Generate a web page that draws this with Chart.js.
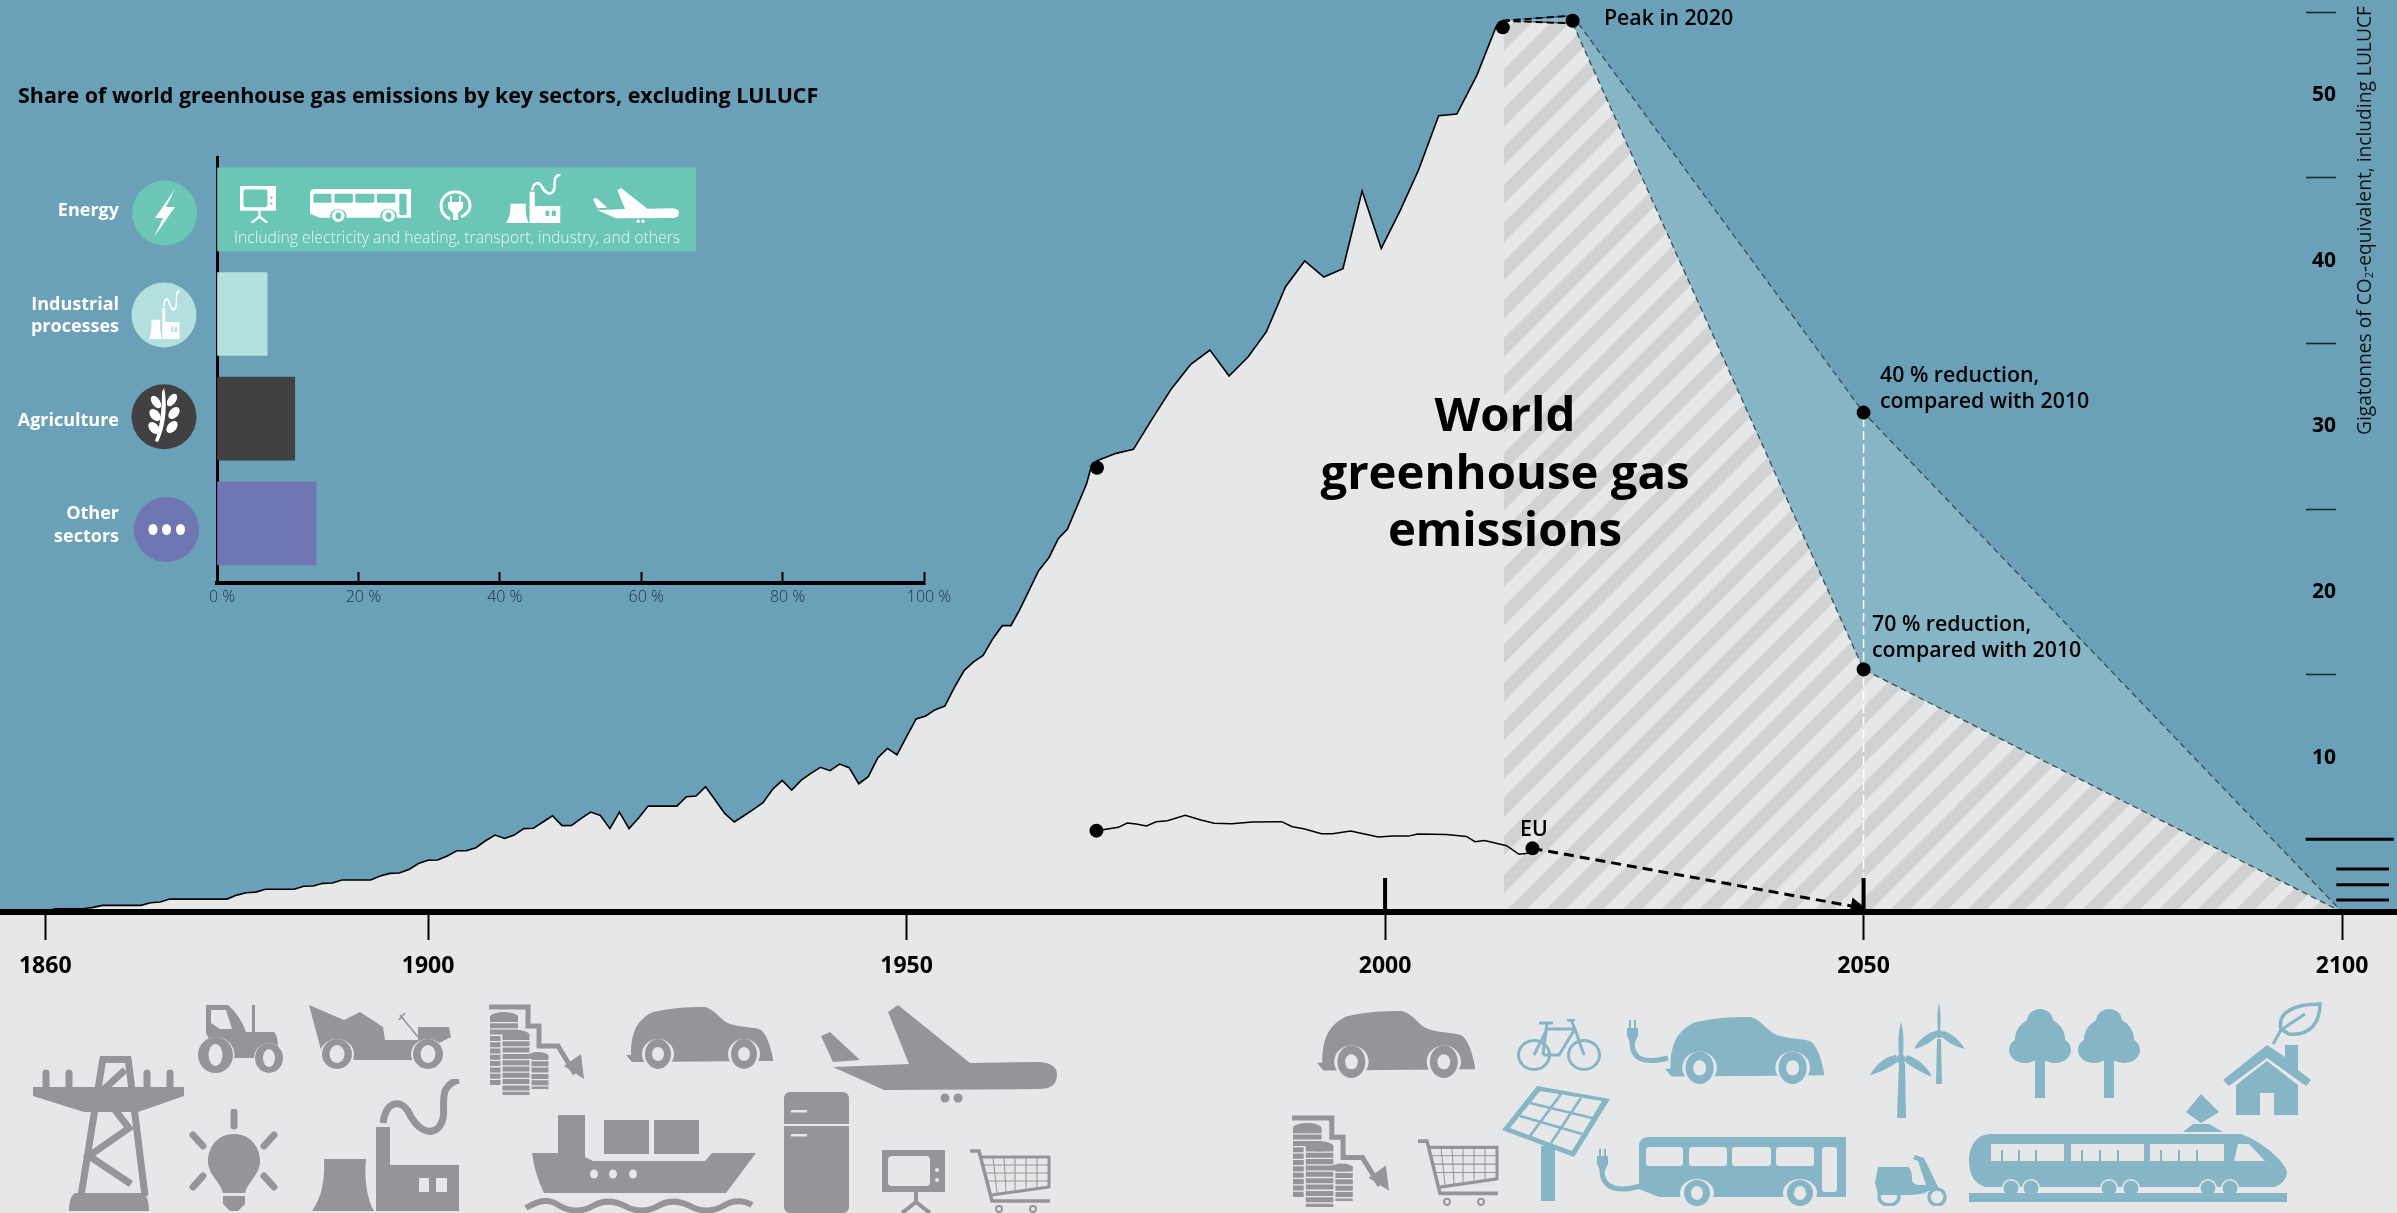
<!DOCTYPE html>
<html>
<head>
<meta charset="utf-8">
<title>World greenhouse gas emissions</title>
<script src="https://cdn.jsdelivr.net/npm/chart.js@4"></script>
<style>
html, body { margin: 0; padding: 0; background: #e6e7e8; }
#page { position: relative; width: 2397px; height: 1213px; overflow: hidden; font-family: "Open Sans", sans-serif; color: #000; }
canvas { position: absolute; left: 0; top: 0; }
svg { position: absolute; left: 0; top: 0; pointer-events: none; }
.note { position: absolute; font-size: 21.3px; font-weight: 600; line-height: 25.7px; white-space: nowrap; }
</style>
</head>
<body>
<div id="page">
  <canvas id="mainChart" width="2397" height="1213"></canvas>
  <canvas id="shareChart" width="960" height="640"></canvas>

  <svg width="2397" height="1213" viewBox="0 0 2397 1213">
    <defs>
      <symbol id="car" viewBox="0 0 147 62" preserveAspectRatio="none">
        <path fill="currentColor" d="M0 48H5C5 30 8 14 27 5C45 1 60 0 79 0C90 3 95 14 104 17C118 21 130 20 135 23C141 28 145 40 147 52L147 54L6 55Z"/>
        <ellipse cx="32" cy="47" rx="16" ry="15" fill="var(--bg)"/><ellipse cx="118" cy="47" rx="16" ry="15" fill="var(--bg)"/>
        <ellipse cx="32" cy="47" rx="13" ry="15" fill="currentColor"/><ellipse cx="118" cy="47" rx="13" ry="15" fill="currentColor"/>
        <ellipse cx="32" cy="47" rx="6" ry="7" fill="var(--bg)"/><ellipse cx="118" cy="47" rx="6" ry="7" fill="var(--bg)"/>
      </symbol>
      <symbol id="bus" viewBox="0 0 207 69" preserveAspectRatio="none">
        <path fill="currentColor" d="M10 0H207V60H20L0 52V10Q0 0 10 0Z"/>
        <g fill="var(--bg)">
          <rect x="7" y="10" width="37" height="19" rx="3"/><rect x="50" y="10" width="38" height="19" rx="3"/>
          <rect x="93" y="10" width="39" height="19" rx="3"/><rect x="137" y="10" width="38" height="19" rx="3"/>
          <rect x="183" y="10" width="15" height="45" rx="3"/>
          <ellipse cx="58" cy="56" rx="17" ry="14"/><ellipse cx="161" cy="56" rx="17" ry="14"/>
        </g>
        <ellipse cx="58" cy="56" rx="13" ry="13" fill="currentColor"/><ellipse cx="161" cy="56" rx="13" ry="13" fill="currentColor"/>
        <ellipse cx="58" cy="56" rx="6" ry="7" fill="var(--bg)"/><ellipse cx="161" cy="56" rx="6" ry="7" fill="var(--bg)"/>
      </symbol>
      <symbol id="cart" viewBox="0 0 81 64" preserveAspectRatio="none">
        <g fill="none" stroke="currentColor">
          <path stroke-width="3.5" d="M0 2H9L22 52H80"/>
          <path stroke-width="3" d="M11 8H79V38L22 46"/>
          <path stroke-width="1" d="M23 8L27 44M34 8L36 43M45 8V41M56 8V39M67 8V38M13 16H79M15 24H79M17 32H79"/>
          <circle cx="29" cy="60" r="3" stroke-width="2"/><circle cx="63" cy="60" r="3" stroke-width="2"/>
        </g>
      </symbol>
      <symbol id="coins" viewBox="0 0 95 91" preserveAspectRatio="none">
        <g fill="none" stroke="currentColor">
          <path stroke-width="5" d="M0 3H39V22H50V42H69L86 70"/>
          <line x1="15" y1="13" x2="15" y2="81" stroke-width="28" stroke-dasharray="5 1.3"/>
          <line x1="49" y1="51" x2="49" y2="85" stroke-width="21" stroke-dasharray="5 1.3"/>
          <line x1="27" y1="31" x2="27" y2="91" stroke="var(--bg)" stroke-width="31"/>
          <line x1="27" y1="31" x2="27" y2="91" stroke-width="27" stroke-dasharray="5 1.3"/>
        </g>
        <ellipse cx="15" cy="13" rx="14" ry="5" fill="currentColor"/><ellipse cx="27" cy="31" rx="13.5" ry="5" fill="currentColor"/><ellipse cx="49" cy="52" rx="10.5" ry="4" fill="currentColor"/>
        <path fill="currentColor" d="M95 75L75 62L92 50Z"/>
      </symbol>
      <symbol id="plane" viewBox="0 0 236 98" preserveAspectRatio="none">
        <path fill="currentColor" d="M12 62L88 59L67 7L77 0L149 58L218 57Q236 58 236 70Q236 84 218 84L63 85Z"/>
        <path fill="currentColor" d="M0 31L9 27L39 55L12 57Z"/>
        <ellipse cx="124" cy="93" rx="4.5" ry="4.5" fill="currentColor"/><ellipse cx="137" cy="93" rx="4.5" ry="4.5" fill="currentColor"/>
      </symbol>
      <symbol id="factory" viewBox="0 0 149 132" preserveAspectRatio="none">
        <path fill="currentColor" d="M12 80H54C52 100 55 120 62 132H0C10 118 13 100 12 80Z"/>
        <path fill="currentColor" d="M64 48H78V86H147V132H64Z"/>
        <rect x="107" y="99" width="10" height="14" fill="var(--bg)"/><rect x="124" y="99" width="11" height="14" fill="var(--bg)"/>
        <path fill="none" stroke="currentColor" stroke-width="7" d="M71 44C74 22 88 20 96 32C104 50 118 58 127 48C136 38 128 20 134 10Q138 3 147 1"/>
      </symbol>
      <symbol id="tv" viewBox="0 0 63 63" preserveAspectRatio="none">
        <path fill="currentColor" fill-rule="evenodd" d="M0 0H63V42H0ZM10 6Q6 6 6 10V32Q6 36 10 36H44Q48 36 48 32V10Q48 6 44 6Z"/>
        <circle cx="55" cy="20" r="2" fill="var(--bg)"/><circle cx="55" cy="30" r="2" fill="var(--bg)"/>
        <path fill="none" stroke="currentColor" stroke-width="4" d="M34 42V52M20 63L34 52L48 63"/>
      </symbol>
      <symbol id="pylon" viewBox="0 0 151 155" preserveAspectRatio="none">
        <path fill="currentColor" d="M67 0H98V7H67ZM0 31H151V40L105 56H51L0 40ZM42 137H110Q116 140 116 155H36Q36 140 42 137Z"/>
        <g fill="none" stroke="currentColor" stroke-width="7">
          <path d="M70 2L48 140M95 2L112 140M92 14L68 36L96 72L56 100L98 128"/>
          <path d="M13 32V17M36 32V17M114 32V17M137 32V17" stroke-linecap="round"/>
        </g>
      </symbol>
      <symbol id="tractor" viewBox="0 0 85 68" preserveAspectRatio="none">
        <path fill="currentColor" d="M8 0H30Q42 10 48 27H54V0H57V27H76Q80 30 80 43L70 53H20L8 28Z"/>
        <path fill="var(--bg)" d="M13 5H28L34 24H22L13 18Z"/>
        <ellipse cx="17.5" cy="50" rx="19" ry="18" fill="var(--bg)"/><ellipse cx="71" cy="53" rx="15" ry="15" fill="var(--bg)"/>
        <ellipse cx="17.5" cy="50" rx="17.5" ry="18" fill="currentColor"/><ellipse cx="71" cy="53" rx="14" ry="15" fill="currentColor"/>
        <ellipse cx="17.5" cy="50" rx="7" ry="11" fill="var(--bg)"/><ellipse cx="71" cy="53" rx="6" ry="9" fill="var(--bg)"/>
      </symbol>
      <symbol id="vintage" viewBox="0 0 142 64" preserveAspectRatio="none">
        <path fill="currentColor" d="M0 0L35 15L51 7L74 22L76 35H109V22H140L142 32L130 38L105 55H46L12 45Z"/>
        <path fill="none" stroke="currentColor" stroke-width="1.6" d="M91 10L109 32M90 15L96 8"/>
        <ellipse cx="28" cy="49" rx="17" ry="15" fill="var(--bg)"/><ellipse cx="119" cy="49" rx="17" ry="15" fill="var(--bg)"/>
        <ellipse cx="28" cy="49" rx="15" ry="15" fill="currentColor"/><ellipse cx="119" cy="49" rx="15" ry="15" fill="currentColor"/>
        <ellipse cx="28" cy="49" rx="7.5" ry="9" fill="var(--bg)"/><ellipse cx="119" cy="49" rx="7.5" ry="9" fill="var(--bg)"/>
      </symbol>
      <symbol id="bulb" viewBox="0 0 90 102" preserveAspectRatio="none">
        <path fill="currentColor" d="M46 25C64 25 72 40 72 52C72 66 60 72 57 84H35C32 72 20 66 20 52C20 40 28 25 46 25Z"/>
        <path fill="currentColor" d="M35 87H57V95L50 102H42L35 95Z"/>
        <path fill="none" stroke="currentColor" stroke-width="7" stroke-linecap="round" d="M46 3V17M5 26L15 37M86 26L76 37M5 78L15 67M86 78L76 67"/>
      </symbol>
      <symbol id="ship" viewBox="0 0 233 98" preserveAspectRatio="none">
        <path fill="currentColor" d="M9 38H35V0H62V42L70 46H182L189 38H233L203 78H21Q12 60 9 38Z"/>
        <rect x="81" y="5" width="45" height="34" fill="currentColor"/><rect x="131" y="5" width="45" height="34" fill="currentColor"/>
        <ellipse cx="71" cy="59" rx="4" ry="4.5" fill="var(--bg)"/><ellipse cx="90" cy="59" rx="4" ry="4.5" fill="var(--bg)"/><ellipse cx="110" cy="59" rx="4" ry="4.5" fill="var(--bg)"/>
        <path fill="none" stroke="currentColor" stroke-width="6" d="M3 93C18 84 27 84 37 91C47 97 60 97 70 91C80 85 90 85 102 91C112 97 125 97 135 91C145 85 155 85 167 91C177 97 190 97 200 91C210 85 220 85 229 90"/>
      </symbol>
      <symbol id="fridge" viewBox="0 0 65 121" preserveAspectRatio="none">
        <rect x="0" y="0" width="65" height="121" rx="6" fill="currentColor"/>
        <rect x="0" y="32" width="65" height="2" fill="var(--bg)"/>
        <rect x="7" y="18" width="16" height="2.5" fill="var(--bg)"/><rect x="7" y="42" width="16" height="2.5" fill="var(--bg)"/>
      </symbol>
      <symbol id="bike" viewBox="0 0 84 52" preserveAspectRatio="none">
        <g fill="none" stroke="currentColor" stroke-width="3">
          <ellipse cx="17" cy="36" rx="15.5" ry="14.5"/><ellipse cx="67" cy="36" rx="15.5" ry="14.5"/>
          <path d="M17 36L30 10H58L67 36M26 36L30 4M26 36H42L58 10L54 1"/><path d="M22 4H36M50 1H58"/>
        </g>
      </symbol>
      <symbol id="turbines" viewBox="0 0 97 115" preserveAspectRatio="none">
        <path fill="currentColor" d="M29 60H35L36 115H27ZM31 19C34 30 34 42 33 52H29C28 42 28 30 31 19ZM0 72C6 62 14 54 26 52L29 58C20 64 10 70 0 72ZM62 74C52 70 42 64 34 58L37 52C48 56 58 64 62 74Z"/>
        <path fill="currentColor" d="M67 36H71L72 81H66ZM69 0C71 10 71 18 70 27H68C67 18 67 10 69 0ZM44 46C48 38 56 30 66 28L68 33C62 38 54 44 44 46ZM95 46C85 44 76 38 71 33L73 28C82 30 90 38 95 46Z"/>
        <circle cx="31" cy="56" r="4.5" fill="currentColor"/><circle cx="69" cy="31" r="4" fill="currentColor"/>
      </symbol>
      <symbol id="trees" viewBox="0 0 131 89" preserveAspectRatio="none">
        <g fill="currentColor">
          <rect x="26" y="48" width="10" height="41"/>
          <ellipse cx="31" cy="12" rx="13" ry="12"/><ellipse cx="31" cy="30" rx="25" ry="22"/>
          <ellipse cx="16" cy="41" rx="16" ry="13"/><ellipse cx="46" cy="41" rx="16" ry="13"/>
        </g>
        <g fill="currentColor" transform="translate(69 0)">
          <rect x="26" y="48" width="10" height="41"/>
          <ellipse cx="31" cy="12" rx="13" ry="12"/><ellipse cx="31" cy="30" rx="25" ry="22"/>
          <ellipse cx="16" cy="41" rx="16" ry="13"/><ellipse cx="46" cy="41" rx="16" ry="13"/>
        </g>
      </symbol>
      <symbol id="house" viewBox="0 0 99 113" preserveAspectRatio="none">
        <path fill="currentColor" d="M44 43L0 78L6 84L44 56L83 84L88 78L75 68V43H62V55Z"/>
        <path fill="currentColor" fill-rule="evenodd" d="M13 83L44 59L75 83V113H13ZM37 91V113H51V91Z"/>
        <path fill="none" stroke="currentColor" stroke-width="3.5" d="M58 27C54 10 72 2 97 2C97 20 88 34 66 32Z"/>
        <path fill="none" stroke="currentColor" stroke-width="3" d="M50 42L58 28L82 12"/>
      </symbol>
      <symbol id="solar" viewBox="0 0 109 115" preserveAspectRatio="none">
        <rect x="39" y="60" width="14" height="55" fill="currentColor"/>
        <path fill="currentColor" d="M35 0L108 13L72 71L0 44Z"/>
        <path fill="var(--bg)" d="M38 5L100 15L70 65L8 42Z"/>
        <path fill="none" stroke="currentColor" stroke-width="2.6" d="M59 8L28 50M79 12L49 57M28 17L90 32M18 30L80 48"/>
      </symbol>
      <symbol id="scooter" viewBox="0 0 73 51" preserveAspectRatio="none">
        <path fill="currentColor" d="M4 12H34Q38 14 38 24Q38 30 46 30H52L44 6L39 4L41 0L50 3L66 36Q64 34 54 36Q50 40 30 40H4L1 28Z"/>
        <ellipse cx="15" cy="42" rx="10" ry="8" fill="none" stroke="currentColor" stroke-width="3.5"/>
        <ellipse cx="63" cy="42" rx="8" ry="8" fill="none" stroke="currentColor" stroke-width="3.5"/>
      </symbol>
      <symbol id="train" viewBox="0 0 318 108" preserveAspectRatio="none">
        <path fill="currentColor" d="M232 0L250 18L232 29L217 18ZM224 30H240L254 38H214Z"/>
        <path fill="currentColor" d="M22 40H272C295 48 318 70 318 79Q316 90 305 93H16Q0 88 0 66C0 52 8 40 22 40Z"/>
        <g fill="var(--bg)">
          <rect x="22" y="50" width="73" height="17"/><rect x="102" y="50" width="73" height="17"/><rect x="181" y="50" width="74" height="17"/>
          <path d="M269 50H280L296 67H265Z"/>
          <circle cx="42" cy="94" r="9"/><circle cx="62" cy="94" r="9"/><circle cx="140" cy="94" r="9"/><circle cx="162" cy="94" r="9"/><circle cx="239" cy="94" r="9"/><circle cx="261" cy="94" r="9"/>
        </g>
        <g fill="currentColor">
          <path d="M32 67V56H34V67ZM49 67V56H51V67ZM66 67V56H68V67ZM112 67V56H114V67ZM130 67V56H132V67ZM148 67V56H150V67ZM191 67V56H193V67ZM209 67V56H211V67ZM227 67V56H229V67Z"/>
          <circle cx="42" cy="94" r="7.5"/><circle cx="62" cy="94" r="7.5"/><circle cx="140" cy="94" r="7.5"/><circle cx="162" cy="94" r="7.5"/><circle cx="239" cy="94" r="7.5"/><circle cx="261" cy="94" r="7.5"/>
          <rect x="0" y="99" width="318" height="9"/>
        </g>
      </symbol>
      <symbol id="plug" viewBox="0 0 33 32" preserveAspectRatio="none">
        <path fill="none" stroke="currentColor" stroke-width="3" d="M22 27C26 25 31 21 31 16C31 8 25 2 16 2C8 2 2 8 2 16C2 22 6 27 11 29"/>
        <path fill="currentColor" d="M11 6H13V12H20V6H22V12H24V18L19 23V30H14V23L9 18V12H11Z"/>
      </symbol>
    </defs>

    <!-- white icons on the energy bar -->
    <g style="color:#fff;--bg:#6bc6b6">
      <use href="#tv" x="240" y="186" width="36" height="37"/>
      <use href="#bus" x="310" y="189" width="101" height="33"/>
      <use href="#plug" x="439" y="190" width="33" height="32"/>
      <use href="#factory" x="506" y="174" width="55" height="49"/>
      <use href="#plane" x="593" y="188" width="86" height="35"/>
    </g>

    <!-- icons inside the sector circles -->
    <circle cx="164.6" cy="213" r="32.5" fill="#6bc6b6"/>
    <circle cx="164" cy="315" r="32.5" fill="#b3dfdf"/>
    <circle cx="164" cy="416.7" r="32.5" fill="#414042"/>
    <circle cx="166.5" cy="529.5" r="32.5" fill="#6f76b2"/>
    <path fill="#fff" d="M175 189L155 218H163L154 237L175 207H166Z"/>
    <g style="color:#fff;--bg:#b3dfdf"><use href="#factory" x="149" y="290" width="31" height="49"/></g>
    <g fill="#fff">
      <path d="M164 388C167 400 167 425 158 442L155 441C161 425 162 405 162 392Z"/>
      <ellipse cx="156" cy="402" rx="4" ry="7" transform="rotate(-35 156 402)"/><ellipse cx="172" cy="400" rx="4" ry="7" transform="rotate(35 172 400)"/>
      <ellipse cx="155" cy="415" rx="4.5" ry="7" transform="rotate(-40 155 415)"/><ellipse cx="174" cy="413" rx="4.5" ry="7" transform="rotate(40 174 413)"/>
      <ellipse cx="154" cy="428" rx="4.5" ry="7" transform="rotate(-40 154 428)"/><ellipse cx="172" cy="427" rx="4.5" ry="7" transform="rotate(40 172 427)"/>
      <ellipse cx="153" cy="529.5" rx="4.5" ry="5.5"/><ellipse cx="166.5" cy="529.5" rx="4.5" ry="5.5"/><ellipse cx="180.5" cy="529.5" rx="4.5" ry="5.5"/>
    </g>

    <!-- bottom strip, grey: today's sources -->
    <g style="color:#939598;--bg:#e6e7e8">
      <use href="#pylon" x="33" y="1056" width="151" height="155"/>
      <use href="#tractor" x="198" y="1005" width="85" height="68"/>
      <use href="#vintage" x="309" y="1005" width="142" height="64"/>
      <use href="#coins" x="489" y="1004" width="95" height="91"/>
      <use href="#car" x="626" y="1007" width="147" height="62"/>
      <use href="#plane" x="821" y="1005" width="236" height="98"/>
      <use href="#bulb" x="188" y="1109" width="90" height="102"/>
      <use href="#factory" x="312" y="1079" width="149" height="132"/>
      <use href="#ship" x="523" y="1115" width="233" height="98"/>
      <use href="#fridge" x="784" y="1092" width="65" height="121"/>
      <use href="#tv" x="882" y="1150" width="63" height="63"/>
      <use href="#cart" x="970" y="1149" width="81" height="64"/>
      <use href="#car" x="1317" y="1011" width="158" height="67"/>
      <use href="#coins" x="1292" y="1115" width="97" height="92"/>
      <use href="#cart" x="1418" y="1139" width="81" height="67"/>
    </g>
    <!-- bottom strip, blue: low-carbon future -->
    <g style="color:#86b5c6;--bg:#e6e7e8">
      <use href="#bike" x="1517" y="1019" width="84" height="52"/>
      <use href="#car" x="1665" y="1017" width="159" height="67"/>
      <path fill="none" stroke="currentColor" stroke-width="5" d="M1632 1042C1632 1060 1645 1064 1668 1058"/>
      <path fill="currentColor" d="M1627 1028H1629V1020H1631V1028H1634V1020H1636V1028H1638V1036L1634 1044H1631L1627 1036Z"/>
      <use href="#turbines" x="1870" y="1003" width="97" height="115"/>
      <use href="#trees" x="2009" y="1009" width="131" height="89"/>
      <use href="#house" x="2223" y="1002" width="99" height="113"/>
      <use href="#solar" x="1502" y="1086" width="109" height="115"/>
      <use href="#bus" x="1639" y="1137" width="207" height="69"/>
      <path fill="none" stroke="currentColor" stroke-width="5" d="M1602 1170C1602 1190 1620 1192 1640 1186"/>
      <path fill="currentColor" d="M1597 1156H1599V1149H1601V1156H1604V1149H1606V1156H1608V1164L1604 1172H1601L1597 1164Z"/>
      <use href="#scooter" x="1874" y="1155" width="73" height="51"/>
      <use href="#train" x="1969" y="1094" width="318" height="108"/>
    </g>
  </svg>

  <div class="note" style="left:18px;top:80px;font-size:21.45px;font-weight:700;line-height:29px">Share of world greenhouse gas emissions by key sectors, excluding LULUCF</div>
  <div class="note" style="left:234px;top:226px;font-size:15.75px;font-weight:300;line-height:22px;color:#e8f6f3">Including electricity and heating, transport, industry, and others</div>
  <div class="note" style="left:1305px;top:384px;width:400px;text-align:center;font-size:47.3px;font-weight:700;line-height:57.5px">World<br>greenhouse gas<br>emissions</div>
  <div class="note" style="left:1604px;top:4px">Peak in 2020</div>
  <div class="note" style="left:1880px;top:361px">40 % reduction,<br>compared with 2010</div>
  <div class="note" style="left:1872px;top:610px">70 % reduction,<br>compared with 2010</div>
  <div class="note" style="left:1520px;top:815px">EU</div>
  <div class="note" id="unitLabel" style="left:2351px;top:10px;height:425px;writing-mode:vertical-rl;transform:rotate(180deg);text-align:left;font-size:19.2px;font-weight:400;line-height:26px;color:#111">Gigatonnes of CO<sub style="font-size:11px;line-height:0">2</sub>-equivalent, including LULUCF</div>
</div>

<script>
// x axis
const axisYears = [1860, 1900, 1950, 2000, 2050, 2100];
// y axis: labels on the tens, short lines on the fives
const yTicks = [5, 10, 15, 20, 25, 30, 35, 40, 45, 50, 55];

// world emissions, gigatonnes CO2-eq
const earlyYears = [
  1860, 1861, 1862, 1863, 1864, 1865, 1866, 1867, 1868, 1869,
  1870, 1871, 1872, 1873, 1874, 1875, 1876, 1877, 1878, 1879,
  1880, 1881, 1882, 1883, 1884, 1885, 1886, 1887, 1888, 1889,
  1890, 1891, 1892, 1893, 1894, 1895, 1896, 1897, 1898, 1899,
  1900, 1901, 1902, 1903, 1904, 1905, 1906, 1907, 1908, 1909,
  1910, 1911, 1912, 1913, 1914, 1915, 1916, 1917, 1918, 1919,
  1920, 1921, 1922, 1923, 1924, 1925, 1926, 1927, 1928, 1929,
  1930, 1931, 1932, 1933, 1934, 1935, 1936, 1937, 1938, 1939,
  1940, 1941, 1942, 1943, 1944, 1945, 1946, 1947, 1948, 1949,
  1950, 1951, 1952, 1953, 1954, 1955, 1956, 1957, 1958, 1959, 1960
];
const earlyValues = [
  0.69, 0.89, 0.89, 0.89, 0.89, 0.97, 1.09, 1.09, 1.09, 1.09,
  1.09, 1.25, 1.29, 1.47, 1.47, 1.47, 1.47, 1.47, 1.47, 1.47,
  1.71, 1.85, 1.89, 2.06, 2.06, 2.06, 2.06, 2.24, 2.26, 2.42,
  2.44, 2.62, 2.62, 2.62, 2.62, 2.86, 3.02, 3.04, 3.26, 3.62,
  3.81, 3.83, 4.07, 4.39, 4.39, 4.57, 4.99, 5.33, 5.13, 5.33,
  5.72, 5.74, 6.12, 6.50, 5.90, 5.92, 6.34, 6.72, 6.52, 5.72,
  6.72, 5.72, 6.36, 7.08, 7.08, 7.08, 7.08, 7.65, 7.69, 8.25,
  7.45, 6.64, 6.12, 6.50, 6.88, 7.29, 8.09, 8.63, 8.05, 8.65,
  9.06, 9.42, 9.22, 9.62, 9.40, 8.43, 8.86, 10.0, 10.56, 10.18,
  11.27, 12.34, 12.52, 12.90, 13.12, 14.25, 15.25, 15.78, 16.18, 17.17, 17.97
];
const recentYears = [
  1960.9, 1961.8, 1963.8, 1964.9, 1965.85, 1966.8, 1968.8, 1969.3, 1969.9, 1971.9,
  1973.7, 1975.7, 1977.7, 1979.7, 1981.7, 1983.7, 1985.7, 1987.6, 1989.6, 1991.6,
  1993.6, 1995.6, 1997.6, 1999.6, 2001.6, 2003.5, 2005.6, 2007.5, 2009.6, 2011.6, 2012.3, 2012.42
];
const recentValues = [
  17.97, 18.91, 21.29, 22.09, 23.22, 23.78, 26.52, 27.56, 27.93, 28.37,
  28.61, 30.48, 32.29, 33.74, 34.60, 33.04, 34.20, 35.71, 38.43, 39.98,
  39.01, 39.51, 44.20, 40.74, 43.05, 45.47, 48.75, 48.85, 51.20, 54.12, 54.48, 54.48
];

// pathways after the peak
const pathYears = [2012.3, 2019.6, 2050, 2100];
const upperPath = [54.5, 54.78, 30.83, 0.69];
const lowerPath = [54.48, 54.32, 15.33, 0.69];
const peakYears = [2012.3, 2019.6];
const peakUpper = [54.48, 54.78];
const peakLower = [54.48, 54.32];

// EU line and its target
const euYears = [
  1969.84, 1972.12, 1973.06, 1973.99, 1975.06, 1976.09, 1977.25, 1979.12, 1980.75, 1982.15,
  1984.0, 1986.1, 1989.2, 1990.3, 1991.5, 1993.35, 1994.5, 1996.4, 1999.3, 2000.8,
  2002.45, 2003.4, 2006.4, 2008.5, 2009.4, 2010.4, 2012.7, 2014.0, 2015.4
];
const euValues = [
  5.60, 5.80, 6.06, 6.00, 5.88, 6.14, 6.20, 6.52, 6.24, 6.04,
  6.02, 6.12, 6.14, 5.84, 5.72, 5.42, 5.42, 5.58, 5.21, 5.27,
  5.27, 5.39, 5.36, 5.25, 4.93, 5.01, 4.69, 4.17, 4.27
];
const euTargetYears = [2015.4, 2049.2];
const euTargetValues = [4.53, 1.0];

// marked points
const dotYears = [1969.9, 2012.3, 2019.6, 2050, 2050, 2100, 1969.84, 2015.4];
const dotValues = [27.5, 54.08, 54.48, 30.83, 15.33, 0.08, 5.6, 4.53];

// share of emissions by sector, percent
const sectorLabels = ['Energy', ['Industrial', 'processes'], 'Agriculture', ['Other', 'sectors']];
const sectorShares = [67.7, 7.1, 11, 14];
const sectorColors = ['#6bc6b6', '#b3dfdf', '#414042', '#6f76b2'];
const shareTicks = [0, 20, 40, 60, 80, 100];

const toPoints = (xs, ys) => xs.map((x, i) => ({ x, y: ys[i] }));

// diagonal stripes under the future pathway, three stripe periods in a 115 px tile
function hatchPattern(ctx) {
  const tile = document.createElement('canvas');
  tile.width = tile.height = 115;
  const c = tile.getContext('2d');
  c.fillStyle = '#e6e7e8';
  c.fillRect(0, 0, 115, 115);
  c.fillStyle = '#d1d2d4';
  for (let k = -1; k < 7; k++) {
    const s0 = 1.9 + k * 115 / 3;
    const s1 = s0 + 19;
    c.beginPath();
    c.moveTo(s0, 0); c.lineTo(s1, 0); c.lineTo(s1 - 115, 115); c.lineTo(s0 - 115, 115); c.closePath();
    c.fill();
  }
  return ctx.createPattern(tile, 'repeat');
}

const blueBackground = {
  id: 'blueBackground',
  beforeDraw(chart) {
    const { ctx, chartArea: a } = chart;
    ctx.save();
    ctx.fillStyle = '#6ba0b9';
    ctx.fillRect(a.left, a.top, a.right - a.left, a.bottom - a.top);
    ctx.restore();
  }
};

const mainCtx = document.getElementById('mainChart').getContext('2d');
new Chart(mainCtx, {
  type: 'line',
  plugins: [blueBackground],
  data: {
    datasets: [
      {
        label: 'Marked points', data: toPoints(dotYears, dotValues), order: 0, clip: false,
        showLine: false, pointRadius: 7, pointBackgroundColor: '#000', pointBorderWidth: 0
      },
      {
        label: '2050 drop line', data: toPoints([2050, 2050], [30.5, 2.74]), order: 1,
        borderColor: '#fff', borderWidth: 1.5, borderDash: [9, 4], pointRadius: 0
      },
      {
        label: '2000 mark', data: toPoints([2000, 2000], [0.69, 2.74]), order: 1,
        borderColor: '#000', borderWidth: 4, pointRadius: 0
      },
      {
        label: '2050 mark', data: toPoints([2050, 2050], [0.69, 2.74]), order: 1,
        borderColor: '#000', borderWidth: 4, pointRadius: 0
      },
      {
        label: 'EU target', data: toPoints(euTargetYears, euTargetValues), order: 1,
        borderColor: '#000', borderWidth: 3, borderDash: [10, 6],
        pointRadius: [0, 10], pointStyle: 'triangle', pointRotation: 100,
        pointBackgroundColor: '#000', pointBorderWidth: 0
      },
      {
        label: 'EU', data: toPoints(euYears, euValues), order: 2,
        borderColor: '#000', borderWidth: 1.5, pointRadius: 0
      },
      {
        label: 'Scale mark 5', data: toPoints([2096.2, 2105.4], [5.08, 5.08]), order: 2, clip: false,
        borderColor: '#000', borderWidth: 3, pointRadius: 0
      },
      {
        label: 'Scale mark 3', data: toPoints([2099.4, 2104.9], [3.28, 3.28]), order: 2, clip: false,
        borderColor: '#000', borderWidth: 3, pointRadius: 0
      },
      {
        label: 'Scale mark 2', data: toPoints([2099.4, 2104.9], [2.34, 2.34]), order: 2, clip: false,
        borderColor: '#000', borderWidth: 3, pointRadius: 0
      },
      {
        label: 'Scale mark 1', data: toPoints([2099.4, 2104.9], [1.41, 1.41]), order: 2, clip: false,
        borderColor: '#000', borderWidth: 3, pointRadius: 0
      },
      {
        label: 'World emissions', data: toPoints(earlyYears.concat(recentYears), earlyValues.concat(recentValues)), order: 4,
        borderColor: '#000', borderWidth: 1.6, pointRadius: 0, fill: 'start', backgroundColor: '#e6e7e8'
      },
      {
        label: 'Lower pathway', data: toPoints(pathYears, lowerPath), order: 5,
        borderColor: '#3e4a50', borderWidth: 1.3, borderDash: [6, 4], pointRadius: 0,
        fill: 'start', backgroundColor: hatchPattern(mainCtx)
      },
      {
        label: 'Upper pathway', data: toPoints(pathYears, upperPath), order: 6,
        borderColor: '#3e4a50', borderWidth: 1.3, borderDash: [6, 4], pointRadius: 0,
        fill: { target: 11 }, backgroundColor: '#86b5c6'
      },
      {
        label: 'Peak upper', data: toPoints(peakYears, peakUpper), order: 3,
        borderColor: '#000', borderWidth: 2, borderDash: [7, 4], pointRadius: 0
      },
      {
        label: 'Peak lower', data: toPoints(peakYears, peakLower), order: 3,
        borderColor: '#000', borderWidth: 2, borderDash: [7, 4], pointRadius: 0
      }
    ]
  },
  options: {
    responsive: false,
    animation: false,
    events: [],
    elements: { line: { tension: 0 } },
    layout: { padding: 0, autoPadding: false },
    plugins: { legend: { display: false }, tooltip: { enabled: false } },
    scales: {
      x: {
        type: 'linear',
        position: 'bottom',
        min: 1855.27,
        max: 2105.74,
        afterBuildTicks: s => { s.ticks = axisYears.map(value => ({ value })); },
        afterFit: s => { s.height = 301; s.paddingLeft = 0; s.paddingRight = 0; },
        grid: { drawOnChartArea: false, tickLength: 28, tickWidth: 2, tickColor: '#000' },
        border: { display: true, color: '#000', width: 6, z: 1 },
        ticks: {
          autoSkip: false, maxRotation: 0, padding: 13, color: '#000',
          font: { family: 'Open Sans', size: 23, weight: 700 },
          callback: v => String(v)
        }
      },
      y: {
        type: 'linear',
        position: { x: 2099.36 },
        min: 0.69,
        max: 55.73,
        afterBuildTicks: s => { s.ticks = yTicks.map(value => ({ value })); },
        afterFit: s => { s.paddingTop = 0; s.paddingBottom = 0; },
        grid: {
          drawOnChartArea: false, tickLength: 30, tickWidth: 1.6,
          tickColor: c => (c.tick.value % 10 === 0 || c.tick.value === 5) ? 'rgba(0,0,0,0)' : '#1c2b33'
        },
        border: { display: false },
        ticks: {
          autoSkip: false, padding: 0, color: '#000',
          font: { family: 'Open Sans', size: 21, weight: 700 },
          callback: v => v % 10 === 0 ? String(v) : ''
        }
      }
    }
  }
});

new Chart(document.getElementById('shareChart').getContext('2d'), {
  type: 'bar',
  data: {
    datasets: [{
      label: 'Share of emissions',
      data: sectorShares.map((x, y) => ({ x, y })),
      backgroundColor: sectorColors,
      barThickness: 83
    }]
  },
  options: {
    indexAxis: 'y',
    responsive: false,
    animation: false,
    events: [],
    layout: { padding: { top: 157, right: 36, left: 0, bottom: 0 }, autoPadding: false },
    plugins: { legend: { display: false }, tooltip: { enabled: false } },
    scales: {
      x: {
        type: 'linear',
        min: 0,
        max: 100,
        afterBuildTicks: s => { s.ticks = shareTicks.map(value => ({ value })); },
        afterFit: s => { s.height = 57; s.paddingLeft = 0; s.paddingRight = 0; },
        grid: { drawOnChartArea: false, tickLength: -11, tickWidth: 2, tickColor: '#000' },
        border: { color: '#000', width: 4 },
        ticks: {
          autoSkip: false, maxRotation: 0, padding: 16, labelOffset: 5, color: '#1a3442',
          font: { family: 'Open Sans', size: 16, weight: 300 },
          callback: v => v + ' %'
        }
      },
      y: {
        type: 'linear',
        reverse: true,
        offset: false,
        min: -0.5,
        max: 3.57,
        afterBuildTicks: s => { s.ticks = sectorLabels.map((_, value) => ({ value })); },
        afterFit: s => { s.width = 217; s.paddingTop = 0; s.paddingBottom = 0; },
        grid: { display: true, offset: false, drawOnChartArea: false, drawTicks: false },
        border: { color: '#000', width: 3 },
        ticks: {
          autoSkip: false, padding: 98, labelOffset: 2, color: '#fff',
          font: { family: 'Open Sans', size: 18, weight: 700, lineHeight: 1.25 },
          callback: v => sectorLabels[v]
        }
      }
    }
  }
});
</script>
</body>
</html>
